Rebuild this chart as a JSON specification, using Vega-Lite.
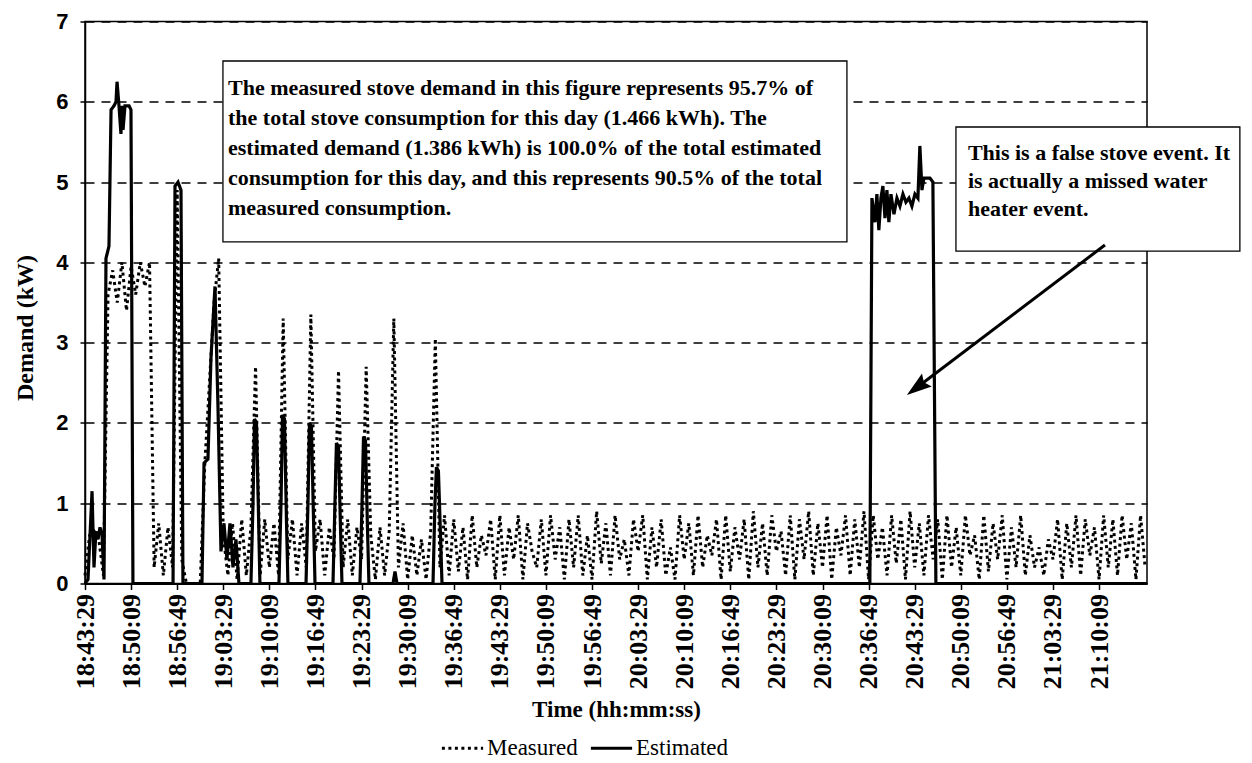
{
  "$schema": "https://vega.github.io/schema/vega-lite/v6.json",
  "width": 1062,
  "height": 562,
  "autosize": {"type": "none"},
  "padding": {"left": 85, "top": 21.5, "right": 105, "bottom": 179.5},
  "background": "white",
  "config": {"view": {"stroke": "black", "strokeWidth": 1.5}},
  "datasets": {
    "measured": [
      {"t":67409,"kW":0.1},{"t":67449,"kW":0.6},{"t":67489,"kW":0.65},{"t":67529,"kW":0.55},{"t":67569,"kW":0.1},
      {"t":67609,"kW":3.6},{"t":67649,"kW":3.9},{"t":67689,"kW":3.5},{"t":67729,"kW":4.0},{"t":67769,"kW":3.4},
      {"t":67809,"kW":3.95},{"t":67849,"kW":3.6},{"t":67889,"kW":4.0},{"t":67929,"kW":3.7},{"t":67969,"kW":4.0},
      {"t":68009,"kW":0.2},{"t":68049,"kW":0.75},{"t":68089,"kW":0.1},{"t":68129,"kW":0.7},{"t":68169,"kW":0.2},
      {"t":68209,"kW":4.9},{"t":68249,"kW":0.3},{"t":68289,"kW":0},{"t":68329,"kW":0},{"t":68369,"kW":0},
      {"t":68409,"kW":0},{"t":68449,"kW":1.5},{"t":68489,"kW":2.5},{"t":68529,"kW":3.5},{"t":68569,"kW":4.05},
      {"t":68609,"kW":0.6},{"t":68649,"kW":0.1},{"t":68689,"kW":0.75},{"t":68729,"kW":0.05},{"t":68769,"kW":0.8},
      {"t":68809,"kW":0.1},{"t":68849,"kW":0.7},{"t":68889,"kW":2.7},{"t":68929,"kW":0.1},{"t":68969,"kW":0.8},
      {"t":69009,"kW":0.2},{"t":69049,"kW":0.75},{"t":69089,"kW":0.1},{"t":69129,"kW":3.3},{"t":69169,"kW":0.3},
      {"t":69209,"kW":0.8},{"t":69249,"kW":0.1},{"t":69289,"kW":0.75},{"t":69329,"kW":0.2},{"t":69369,"kW":3.35},
      {"t":69409,"kW":0.4},{"t":69449,"kW":0.8},{"t":69489,"kW":0.1},{"t":69529,"kW":0.7},{"t":69569,"kW":0.3},
      {"t":69609,"kW":2.65},{"t":69649,"kW":0.2},{"t":69689,"kW":0.8},{"t":69729,"kW":0.1},{"t":69769,"kW":0.7},
      {"t":69809,"kW":0.3},{"t":69849,"kW":2.7},{"t":69889,"kW":0.6},{"t":69929,"kW":0.05},{"t":69969,"kW":0.7},
      {"t":70009,"kW":0.1},{"t":70049,"kW":0.65},{"t":70089,"kW":3.3},{"t":70129,"kW":0.2},{"t":70169,"kW":0.75},
      {"t":70209,"kW":0.05},{"t":70249,"kW":0.6},{"t":70289,"kW":0.1},{"t":70329,"kW":0.55},{"t":70369,"kW":0.05},
      {"t":70409,"kW":0.65},{"t":70449,"kW":3.05},{"t":70489,"kW":0.2},{"t":70529,"kW":0.85},{"t":70569,"kW":0.1},
      {"t":70609,"kW":0.8},{"t":70649,"kW":0.15},{"t":70689,"kW":0.7},{"t":70729,"kW":0.05},{"t":70769,"kW":0.85},
      {"t":70809,"kW":0.2},{"t":70849,"kW":0.6},{"t":70889,"kW":0.35},{"t":70929,"kW":0.8},{"t":70969,"kW":0.05},
      {"t":71009,"kW":0.85},{"t":71049,"kW":0.1},{"t":71089,"kW":0.7},{"t":71129,"kW":0.3},{"t":71169,"kW":0.85},
      {"t":71209,"kW":0.05},{"t":71249,"kW":0.75},{"t":71289,"kW":0.4},{"t":71329,"kW":0.2},{"t":71369,"kW":0.8},
      {"t":71409,"kW":0.1},{"t":71449,"kW":0.85},{"t":71489,"kW":0.3},{"t":71529,"kW":0.7},{"t":71569,"kW":0.05},
      {"t":71609,"kW":0.8},{"t":71649,"kW":0.2},{"t":71689,"kW":0.85},{"t":71729,"kW":0.1},{"t":71769,"kW":0.6},
      {"t":71809,"kW":0.05},{"t":71849,"kW":0.9},{"t":71889,"kW":0.25},{"t":71929,"kW":0.75},{"t":71969,"kW":0.1},
      {"t":72009,"kW":0.85},{"t":72049,"kW":0.3},{"t":72089,"kW":0.55},{"t":72129,"kW":0.1},{"t":72169,"kW":0.8},
      {"t":72209,"kW":0.4},{"t":72249,"kW":0.85},{"t":72289,"kW":0.05},{"t":72329,"kW":0.7},{"t":72369,"kW":0.2},
      {"t":72409,"kW":0.8},{"t":72449,"kW":0.1},{"t":72489,"kW":0.45},{"t":72529,"kW":0.05},{"t":72569,"kW":0.85},
      {"t":72609,"kW":0.3},{"t":72649,"kW":0.75},{"t":72689,"kW":0.1},{"t":72729,"kW":0.85},{"t":72769,"kW":0.2},
      {"t":72809,"kW":0.6},{"t":72849,"kW":0.35},{"t":72889,"kW":0.8},{"t":72929,"kW":0.05},{"t":72969,"kW":0.85},
      {"t":73009,"kW":0.15},{"t":73049,"kW":0.7},{"t":73089,"kW":0.3},{"t":73129,"kW":0.8},{"t":73169,"kW":0.05},
      {"t":73209,"kW":0.9},{"t":73249,"kW":0.2},{"t":73289,"kW":0.75},{"t":73329,"kW":0.1},{"t":73369,"kW":0.85},
      {"t":73409,"kW":0.4},{"t":73449,"kW":0.65},{"t":73489,"kW":0.1},{"t":73529,"kW":0.85},{"t":73569,"kW":0.05},
      {"t":73609,"kW":0.8},{"t":73649,"kW":0.3},{"t":73689,"kW":0.9},{"t":73729,"kW":0.1},{"t":73769,"kW":0.75},
      {"t":73809,"kW":0.2},{"t":73849,"kW":0.85},{"t":73889,"kW":0.05},{"t":73929,"kW":0.7},{"t":73969,"kW":0.35},
      {"t":74009,"kW":0.85},{"t":74049,"kW":0.1},{"t":74089,"kW":0.8},{"t":74129,"kW":0.2},{"t":74169,"kW":0.9},
      {"t":74209,"kW":0.05},{"t":74249,"kW":0.85},{"t":74289,"kW":0.3},{"t":74329,"kW":0.7},{"t":74369,"kW":0.1},
      {"t":74409,"kW":0.85},{"t":74449,"kW":0.25},{"t":74489,"kW":0.8},{"t":74529,"kW":0.05},{"t":74569,"kW":0.9},
      {"t":74609,"kW":0.2},{"t":74649,"kW":0.75},{"t":74689,"kW":0.1},{"t":74729,"kW":0.85},{"t":74769,"kW":0.3},
      {"t":74809,"kW":0.8},{"t":74849,"kW":0.05},{"t":74889,"kW":0.85},{"t":74929,"kW":0.2},{"t":74969,"kW":0.7},
      {"t":75009,"kW":0.1},{"t":75049,"kW":0.85},{"t":75089,"kW":0.35},{"t":75129,"kW":0.6},{"t":75169,"kW":0.05},
      {"t":75209,"kW":0.85},{"t":75249,"kW":0.15},{"t":75289,"kW":0.75},{"t":75329,"kW":0.3},{"t":75369,"kW":0.85},
      {"t":75409,"kW":0.05},{"t":75449,"kW":0.7},{"t":75489,"kW":0.2},{"t":75529,"kW":0.85},{"t":75569,"kW":0.1},
      {"t":75609,"kW":0.6},{"t":75649,"kW":0.2},{"t":75689,"kW":0.45},{"t":75729,"kW":0.1},{"t":75769,"kW":0.55},
      {"t":75809,"kW":0.3},{"t":75849,"kW":0.8},{"t":75889,"kW":0.05},{"t":75929,"kW":0.75},{"t":75969,"kW":0.2},
      {"t":76009,"kW":0.85},{"t":76049,"kW":0.1},{"t":76089,"kW":0.8},{"t":76129,"kW":0.35},{"t":76169,"kW":0.7},
      {"t":76209,"kW":0.05},{"t":76249,"kW":0.85},{"t":76289,"kW":0.2},{"t":76329,"kW":0.8},{"t":76369,"kW":0.1},
      {"t":76409,"kW":0.85},{"t":76449,"kW":0.3},{"t":76489,"kW":0.75},{"t":76529,"kW":0.05},{"t":76569,"kW":0.85},
      {"t":76609,"kW":0.2}
    ],
    "estimated": [
      {"t":67409,"kW":0},{"t":67435,"kW":0.05},{"t":67470,"kW":1.15},{"t":67487,"kW":0.2},{"t":67504,"kW":0.65},
      {"t":67522,"kW":0.55},{"t":67539,"kW":0.7},{"t":67557,"kW":0.6},{"t":67574,"kW":0.05},{"t":67591,"kW":4.05},
      {"t":67617,"kW":4.2},{"t":67635,"kW":5.9},{"t":67661,"kW":5.95},{"t":67678,"kW":6.0},{"t":67687,"kW":6.25},
      {"t":67704,"kW":5.95},{"t":67721,"kW":5.6},{"t":67730,"kW":5.95},{"t":67739,"kW":5.65},{"t":67756,"kW":5.95},
      {"t":67791,"kW":5.95},{"t":67808,"kW":5.9},{"t":67825,"kW":0},
      {"t":68173,"kW":0},{"t":68190,"kW":4.95},{"t":68216,"kW":5.0},{"t":68242,"kW":4.9},{"t":68259,"kW":0},
      {"t":68424,"kW":0},{"t":68442,"kW":1.5},{"t":68476,"kW":1.55},{"t":68502,"kW":2.8},{"t":68537,"kW":3.7},
      {"t":68563,"kW":2.2},{"t":68589,"kW":0.4},{"t":68615,"kW":0.75},{"t":68641,"kW":0.3},{"t":68667,"kW":0.75},
      {"t":68693,"kW":0.2},{"t":68719,"kW":0.55},{"t":68745,"kW":0},
      {"t":68849,"kW":0},{"t":68867,"kW":1.0},{"t":68880,"kW":2.05},{"t":68897,"kW":2.0},{"t":68914,"kW":0.9},{"t":68927,"kW":0},
      {"t":69092,"kW":0},{"t":69110,"kW":1.0},{"t":69123,"kW":2.1},{"t":69140,"kW":2.05},{"t":69157,"kW":0.8},{"t":69170,"kW":0},
      {"t":69327,"kW":0},{"t":69344,"kW":1.0},{"t":69357,"kW":2.0},{"t":69374,"kW":1.95},{"t":69392,"kW":0.8},{"t":69405,"kW":0},
      {"t":69561,"kW":0},{"t":69578,"kW":1.0},{"t":69591,"kW":1.75},{"t":69609,"kW":1.7},{"t":69626,"kW":0.7},{"t":69639,"kW":0},
      {"t":69795,"kW":0},{"t":69813,"kW":1.0},{"t":69826,"kW":1.83},{"t":69843,"kW":1.78},{"t":69860,"kW":0.7},{"t":69873,"kW":0},
      {"t":70082,"kW":0},{"t":70099,"kW":0.15},{"t":70116,"kW":0},
      {"t":70429,"kW":0},{"t":70446,"kW":1.0},{"t":70459,"kW":1.45},{"t":70476,"kW":1.4},{"t":70494,"kW":0.6},{"t":70507,"kW":0},
      {"t":74220,"kW":0},{"t":74238,"kW":4.8},{"t":74264,"kW":4.5},{"t":74281,"kW":4.85},{"t":74298,"kW":4.4},
      {"t":74316,"kW":4.8},{"t":74333,"kW":4.95},{"t":74351,"kW":4.55},{"t":74368,"kW":4.9},{"t":74385,"kW":4.5},
      {"t":74403,"kW":4.85},{"t":74429,"kW":4.6},{"t":74455,"kW":4.8},{"t":74481,"kW":4.7},{"t":74507,"kW":4.85},
      {"t":74533,"kW":4.75},{"t":74559,"kW":4.8},{"t":74585,"kW":4.7},{"t":74611,"kW":4.85},{"t":74637,"kW":4.8},
      {"t":74654,"kW":5.45},{"t":74672,"kW":4.9},{"t":74689,"kW":5.05},{"t":74741,"kW":5.05},{"t":74767,"kW":5.0},
      {"t":74793,"kW":0},{"t":76625,"kW":0}
    ],
    "boxes": [
      {"t":68606,"t2":74021,"kW":6.508,"kW2":4.254},
      {"t":74967,"t2":77431,"kW":5.686,"kW2":4.141}
    ],
    "notes": [
      {"t":68650,"kW":6.08,"note":"The measured stove demand in this figure represents 95.7% of\nthe total stove consumption for this day (1.466 kWh). The\nestimated demand (1.386 kWh) is 100.0% of the total estimated\nconsumption for this day, and this represents 90.5% of the total\nmeasured consumption."}
    ],
    "notes2": [
      {"t":75071,"kW":5.27,"note":"This is a false stove event. It\nis actually a missed water\nheater event."}
    ],
    "arrow": [
      {"t":76260,"kW":4.216,"t2":74628,"kW2":2.441}
    ],
    "arrowhead": [
      {"t":74628,"kW":2.441}
    ]
  },
  "encoding": {
    "x": {
      "field": "t",
      "type": "quantitative",
      "scale": {"domain": [67409, 76625], "nice": false, "zero": false},
      "axis": {
        "values": [67409,67809,68209,68609,69009,69409,69809,70209,70609,71009,71409,71809,72209,72609,73009,73409,73809,74209,74609,75009,75409,75809,76209],
        "labelExpr": "utcFormat(datum.value * 1000, '%H:%M:%S')",
        "labelAngle": -90,
        "labelFont": "Liberation Serif",
        "labelFontSize": 26,
        "labelFontWeight": "bold",
        "labelColor": "black",
        "labelPadding": 4,
        "labelFlush": false,
        "labelOverlap": false,
        "tickSize": 6,
        "tickColor": "black",
        "tickWidth": 1.5,
        "domainColor": "black",
        "domainWidth": 2,
        "grid": false,
        "title": "Time (hh:mm:ss)",
        "titleFont": "Liberation Serif",
        "titleFontSize": 23,
        "titleFontWeight": "bold",
        "titleColor": "black",
        "titlePadding": 10
      }
    },
    "y": {
      "field": "kW",
      "type": "quantitative",
      "scale": {"domain": [0, 7], "nice": false},
      "axis": {
        "values": [0,1,2,3,4,5,6,7],
        "title": "Demand (kW)",
        "titleFont": "Liberation Serif",
        "titleFontSize": 24,
        "titleFontWeight": "bold",
        "titleColor": "black",
        "titlePadding": 18,
        "titleY": 306,
        "labelFont": "Liberation Sans",
        "labelFontSize": 22,
        "labelFontWeight": "bold",
        "labelColor": "black",
        "labelPadding": 12,
        "labelFlush": false,
        "tickSize": 5,
        "tickColor": "black",
        "tickWidth": 1.5,
        "domainColor": "black",
        "domainWidth": 1.5,
        "grid": true,
        "gridColor": "black",
        "gridDash": [9, 7],
        "gridWidth": 1.3,
        "gridOpacity": 1
      }
    }
  },
  "layer": [
    {
      "data": {"name": "measured"},
      "mark": {"type": "line", "color": "black", "strokeWidth": 3},
      "encoding": {
        "strokeDash": {
          "datum": "Measured",
          "type": "nominal",
          "scale": {"domain": ["Measured", "Estimated"], "range": [[3, 3.5], [1, 0]]},
          "legend": {
            "title": null,
            "orient": "none",
            "legendX": 355,
            "legendY": 704,
            "direction": "horizontal",
            "symbolType": "stroke",
            "symbolStrokeWidth": 3,
            "symbolStrokeColor": "black",
            "symbolSize": 1700,
            "labelFont": "Liberation Serif",
            "labelFontSize": 23,
            "labelColor": "black",
            "labelOffset": 2,
            "columnPadding": 6,
            "padding": 0
          }
        }
      }
    },
    {
      "data": {"name": "estimated"},
      "mark": {"type": "line", "color": "black", "strokeWidth": 3.2},
      "encoding": {
        "strokeDash": {"datum": "Estimated", "type": "nominal"}
      }
    },
    {
      "data": {"name": "boxes"},
      "mark": {"type": "rect", "fill": "white", "stroke": "black", "strokeWidth": 1.3, "clip": false},
      "encoding": {
        "x2": {"field": "t2"},
        "y2": {"field": "kW2"}
      }
    },
    {
      "data": {"name": "notes"},
      "mark": {"type": "text", "align": "left", "baseline": "alphabetic", "lineBreak": "\n", "lineHeight": 30, "font": "Liberation Serif", "fontSize": 22, "fontWeight": "bold", "color": "black"},
      "encoding": {
        "text": {"field": "note"}
      }
    },
    {
      "data": {"name": "notes2"},
      "mark": {"type": "text", "align": "left", "baseline": "alphabetic", "lineBreak": "\n", "lineHeight": 28, "font": "Liberation Serif", "fontSize": 22, "fontWeight": "bold", "color": "black", "clip": false},
      "encoding": {
        "text": {"field": "note"}
      }
    },
    {
      "data": {"name": "arrow"},
      "mark": {"type": "rule", "color": "black", "strokeWidth": 3},
      "encoding": {
        "x2": {"field": "t2"},
        "y2": {"field": "kW2"}
      }
    },
    {
      "data": {"name": "arrowhead"},
      "mark": {"type": "point", "shape": "M0,-1L0.65,1L0,0.7L-0.65,1Z", "filled": true, "color": "black", "opacity": 1, "size": 625, "angle": 233},
      "encoding": {}
    }
  ]
}
